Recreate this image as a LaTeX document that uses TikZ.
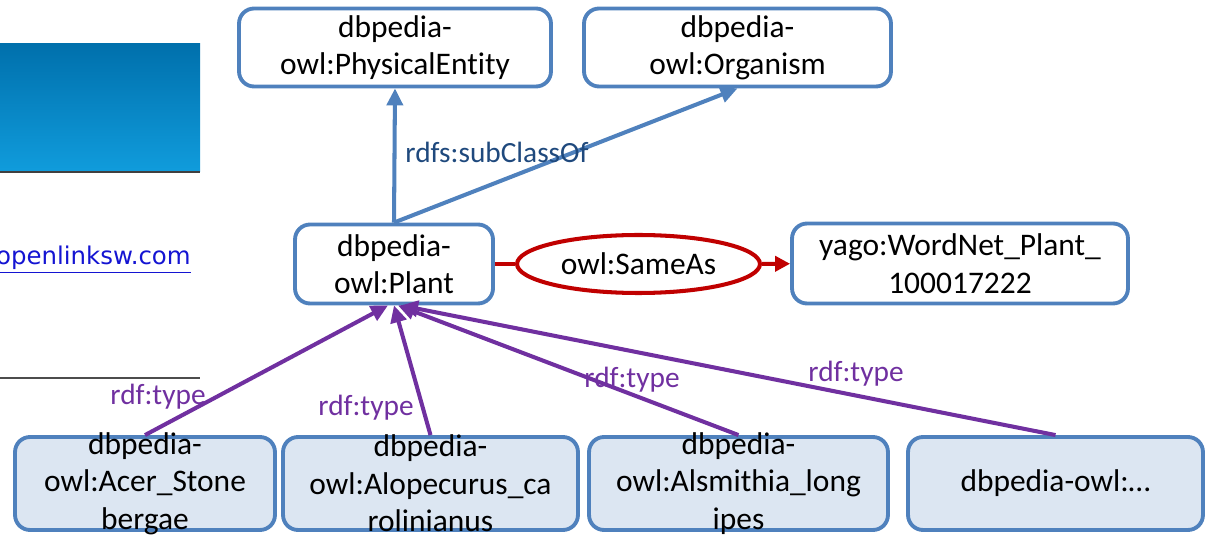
\documentclass[tikz,border=0pt]{standalone}
\usepackage{fontspec}
\setmainfont{Carlito}[Ligatures=NoCommon]
\newfontfamily\linkfont{DejaVu Sans}
\usetikzlibrary{arrows.meta,shapes.geometric}
\definecolor{boxblue}{RGB}{79,129,189}
\definecolor{leaffill}{RGB}{220,230,242}
\definecolor{samered}{RGB}{192,0,0}
\definecolor{typepurple}{RGB}{112,48,160}
\definecolor{subblue}{RGB}{31,73,125}
\definecolor{linkblue}{RGB}{20,20,210}
\definecolor{bartop}{RGB}{0,112,172}
\definecolor{barbottom}{RGB}{16,156,220}

\begin{document}
\begin{tikzpicture}[x=0.02cm,y=-0.02cm]
    \tikzstyle{class}=[draw=boxblue,line width=2.2pt,rounded corners=0.3cm,fill=white,align=center,inner sep=0pt,font=\fontsize{17.9}{21.3}\selectfont]
    \tikzstyle{leaf}=[class,fill=leaffill,minimum height=1.86cm]
    \tikzstyle{leaftext}=[align=center,inner sep=0pt,font=\fontsize{17.9}{21.3}\selectfont]
    \tikzstyle{subclass}=[line width=2.3pt,boxblue,-{Triangle[length=0.34cm,width=0.32cm]}]
    \tikzstyle{rdftype}=[line width=2.3pt,typepurple,-{Triangle[length=0.34cm,width=0.32cm]}]
    \tikzstyle{sameline}=[line width=2.3pt,samered]
    \tikzstyle{edgelabel}=[inner sep=0pt,font=\fontsize{16.7}{20}\selectfont]

    \useasboundingbox (0,0) rectangle (1211,540);

    % screenshot left behind the diagram
    \shade[top color=bartop, bottom color=barbottom] (0,44) rectangle (200,172);
    \draw[black!75, line width=0.6pt] (0,172) -- (200,172);
    \node at (191,260) (link) [anchor=east, inner sep=0pt, text=linkblue, font=\linkfont\fontsize{13.9}{16}\selectfont] {\underline{.openlinksw.com}};
    \draw[black!70, line width=1.2pt] (0,378) -- (200,378);

    \node at (395,47.5) (phys) [class, minimum width=6.24cm, minimum height=1.56cm] {dbpedia-\\owl:PhysicalEntity};
    \node at (737.5,47.5) (org) [class, minimum width=6.14cm, minimum height=1.56cm] {dbpedia-\\owl:Organism};
    \node at (394,264) (plant) [class, minimum width=3.96cm, minimum height=1.58cm] {dbpedia-\\owl:Plant};
    \node at (960,263.5) (yago) [class, minimum width=6.72cm, minimum height=1.6cm] {yago:WordNet\_Plant\_\\100017222};

    \node at (638.5,264) (sameas) [ellipse, draw=samered, line width=2.3pt, minimum width=4.86cm, minimum height=1.16cm, inner sep=0pt, font=\fontsize{17.9}{21.3}\selectfont] {owl:SameAs};
    \draw[sameline] (plant) -- (sameas);
    \draw[sameline, -{Triangle[length=0.3cm,width=0.3cm]}] (sameas) -- (yago);

    \draw[subclass] (plant.north) -- (phys.south);
    \draw[subclass] (plant.north) -- (org.south);
    \node at (497,152) (subLbl) [edgelabel, text=subblue] {rdfs:subClassOf};

    % instances
    \node at (145,483.5) (acer) [leaf, minimum width=5.2cm] {};
    \node at (430.5,483.5) (alope) [leaf, minimum width=5.9cm] {};
    \node at (738.5,483.5) (alsm) [leaf, minimum width=5.98cm] {};
    \node at (1055.5,483.5) (more) [leaf, minimum width=5.9cm] {};

    \node at (acer) (acerText) [leaftext] {dbpedia-\\owl:Acer\_Stone\\bergae};
    \node at (alope) (alopeText) [leaftext] {dbpedia-\\owl:Alopecurus\_ca\\rolinianus};
    \node at (alsm) (alsmText) [leaftext] {dbpedia-\\owl:Alsmithia\_long\\ipes};
    \node at (more) (moreText) [leaftext] {dbpedia-owl:…};

    \draw[rdftype] (acer.north) -- ([xshift=-0.12cm]plant.south);
    \draw[rdftype] (alope.north) -- (plant.south);
    \draw[rdftype] (alsm.north) -- ([xshift=0.08cm]plant.south);
    \draw[rdftype] (more.north) -- ([xshift=0.14cm]plant.south);

    \node at (158,397) (typeA) [edgelabel, text=typepurple] {rdf:type};
    \node at (366,408) (typeB) [edgelabel, text=typepurple] {rdf:type};
    \node at (632,380) (typeC) [edgelabel, text=typepurple] {rdf:type};
    \node at (856,374) (typeD) [edgelabel, text=typepurple] {rdf:type};
\end{tikzpicture}
\end{document}
